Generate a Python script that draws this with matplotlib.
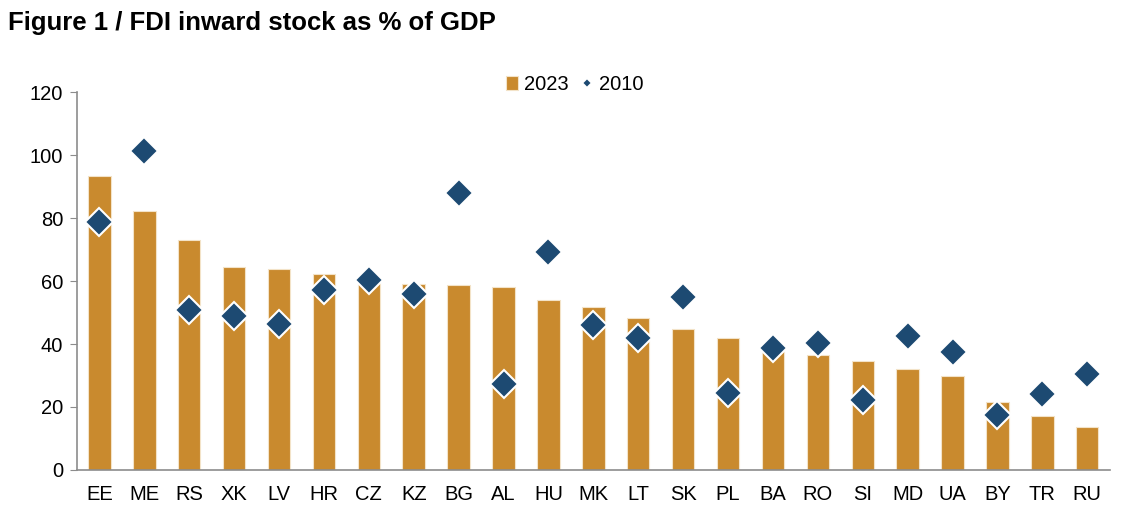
import numpy as np
import matplotlib.pyplot as plt

plt.rcParams['font.family'] = ['Liberation Sans', 'DejaVu Sans']

countries = ["EE", "ME", "RS", "XK", "LV", "HR", "CZ", "KZ", "BG", "AL", "HU", "MK",
             "LT", "SK", "PL", "BA", "RO", "SI", "MD", "UA", "BY", "TR", "RU"]
fdi_2023 = [93.5, 82.2, 73.0, 64.5, 63.8, 62.2, 60.0, 59.0, 58.7, 58.1, 54.0, 51.8,
            48.3, 44.8, 41.9, 38.2, 36.6, 34.6, 32.2, 29.9, 21.5, 17.1, 13.7]
fdi_2010 = [78.9, 101.3, 50.9, 48.9, 46.5, 57.1, 60.2, 55.9, 87.9, 27.2, 69.1, 46.0,
            41.8, 54.9, 24.4, 38.6, 40.2, 22.2, 42.7, 37.5, 17.6, 24.0, 30.5]

bar_color = "#C98A2E"
dot_color = "#1D4A72"

fig = plt.figure(figsize=(11.25, 5.21), dpi=100)
ax = fig.add_axes([0.0684, 0.098, 0.918, 0.725])

x = np.arange(len(countries))
bars = ax.bar(x, fdi_2023, width=0.5, color=bar_color, edgecolor="#F3E3C8", linewidth=0.8,
              label="2023", zorder=2)
dots, = ax.plot(x, fdi_2010, linestyle="none", marker="D", markersize=14, color=dot_color,
                markeredgecolor="white", markeredgewidth=1.5, label="2010", zorder=3)

ax.set_xlim(-0.5, len(countries) - 0.5)
ax.set_ylim(0, 120)
ax.set_yticks(np.arange(0, 121, 20))
ax.set_xticks(x)
ax.set_xticklabels(countries)
ax.tick_params(axis="x", length=0, labelsize=14.5, pad=11)
ax.tick_params(axis="y", length=5, color="#8C8C8C", labelsize=14.5, pad=5)
for side in ["top", "right"]:
    ax.spines[side].set_visible(False)
for side in ["left", "bottom"]:
    ax.spines[side].set_color("#8C8C8C")
    ax.spines[side].set_linewidth(1.2)

leg = ax.legend([bars, dots], ["2023", "2010"], loc="center", bbox_to_anchor=(0.482, 1.021),
                ncol=2, frameon=False, fontsize=14.5, handlelength=0.6, handletextpad=0.3,
                columnspacing=0.6, markerscale=0.35, borderaxespad=0)
fig.text(0.007, 0.942, "Figure 1 / FDI inward stock as % of GDP", fontsize=18.5,
         fontweight="bold", ha="left", va="baseline")

fig.savefig("out.png", dpi=100)
